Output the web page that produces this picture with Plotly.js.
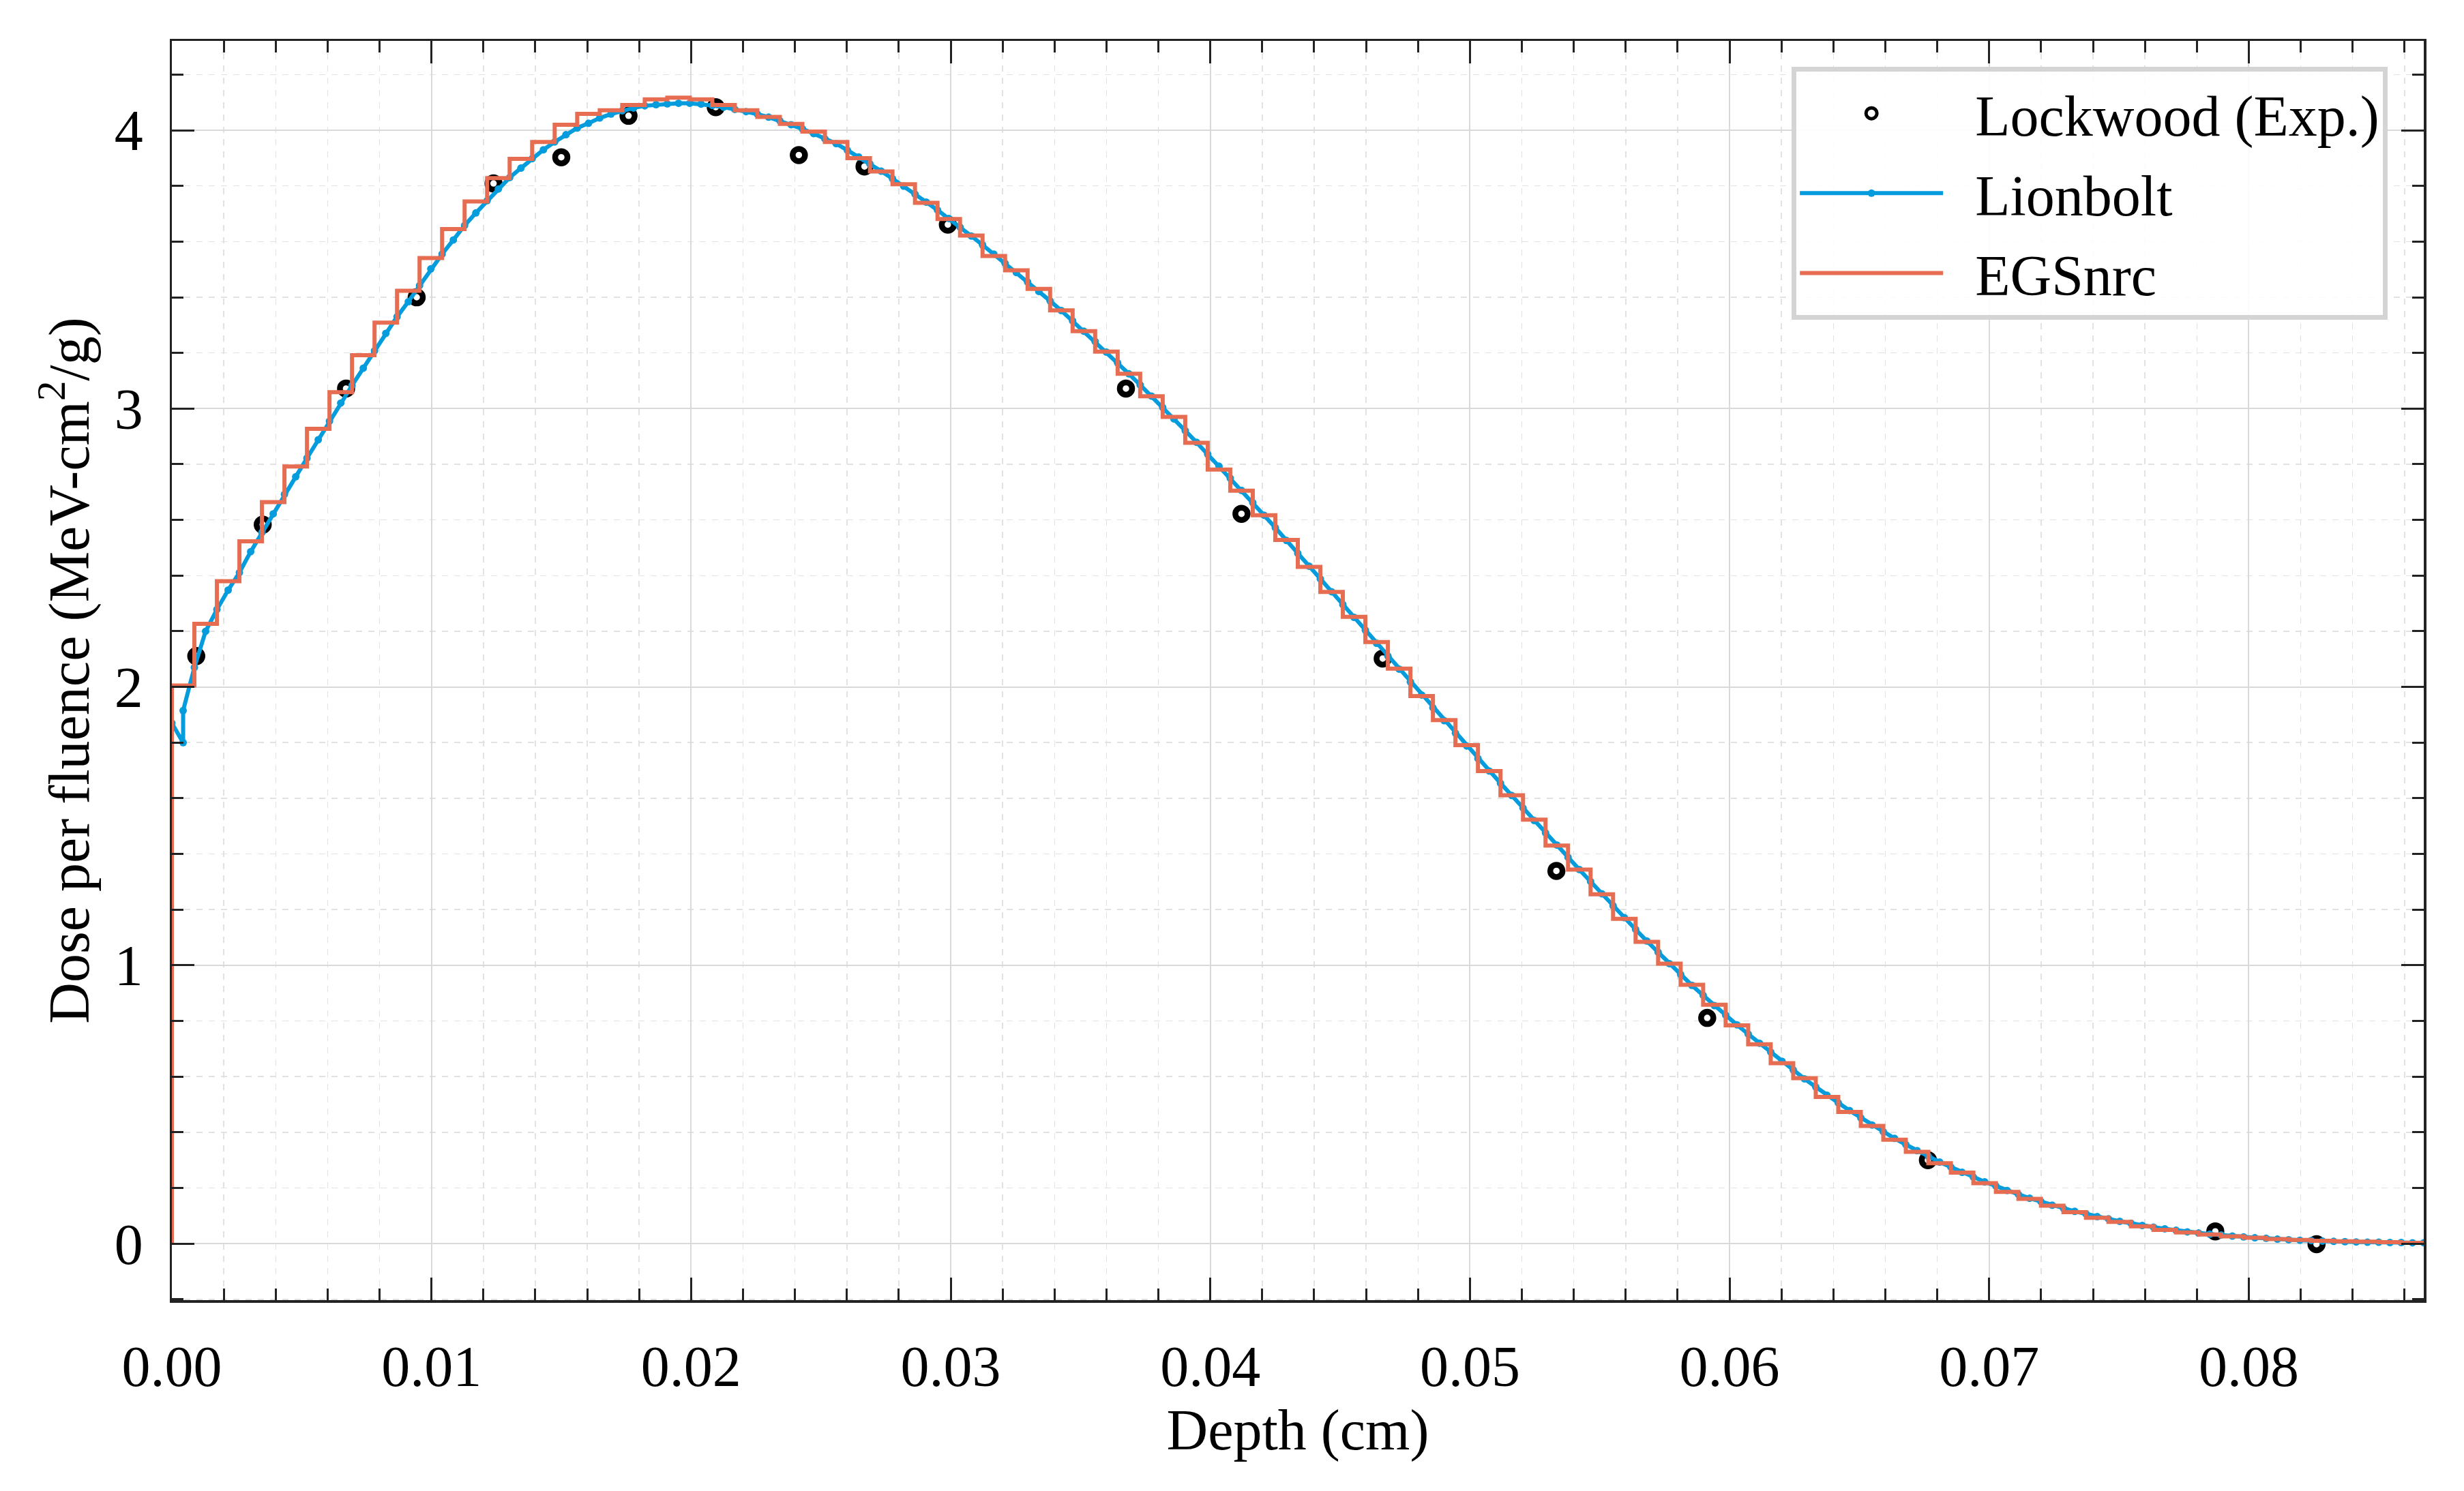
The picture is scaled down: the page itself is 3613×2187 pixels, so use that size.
<!DOCTYPE html>
<html>
<head>
<meta charset="utf-8">
<script src="https://cdn.plot.ly/plotly-3.0.1.min.js"></script>
<style>
  html, body { margin: 0; padding: 0; background: #fff; }
  #plot { width: 3613px; height: 2187px; }
</style>
</head>
<body>
<div id="plot"></div>
<script>
// Lockwood measurements (depth in cm, dose per fluence in MeV-cm^2/g)
const lockwoodDepth = [0.00094, 0.00350, 0.00671, 0.00943, 0.01239, 0.01500, 0.01759, 0.02095,
  0.02415, 0.02668, 0.02989, 0.03675, 0.04120, 0.04664, 0.05333, 0.05914, 0.06764, 0.07871, 0.08261];
const lockwoodDose = [2.111, 2.583, 3.072, 3.400, 3.809, 3.903, 4.052, 4.083,
  3.911, 3.870, 3.661, 3.072, 2.622, 2.102, 1.339, 0.811, 0.300, 0.044, -0.002];

// Lionbolt: nodes every half slab, node 1 appears twice (jump just below the surface)
const lionboltStep = 0.0004337;
const lionboltDose = [
  1.870, 1.800, 1.915, 2.070, 2.200, 2.278, 2.348, 2.411, 2.486, 2.555,
  2.622, 2.692, 2.755, 2.822, 2.888, 2.955, 3.020, 3.083, 3.145, 3.208,
  3.270, 3.330, 3.384, 3.442, 3.502, 3.555, 3.606, 3.658, 3.703, 3.747,
  3.789, 3.830, 3.864, 3.898, 3.930, 3.958, 3.984, 4.008, 4.025, 4.044,
  4.058, 4.070, 4.080, 4.088, 4.092, 4.095, 4.097, 4.097, 4.094, 4.089,
  4.083, 4.075, 4.067, 4.058, 4.047, 4.034, 4.020, 4.005, 3.988, 3.969,
  3.952, 3.928, 3.904, 3.879, 3.853, 3.826, 3.799, 3.771, 3.742, 3.713,
  3.683, 3.652, 3.620, 3.588, 3.555, 3.522, 3.489, 3.455, 3.421, 3.387,
  3.352, 3.315, 3.278, 3.241, 3.203, 3.164, 3.125, 3.085, 3.045, 3.004,
  2.963, 2.921, 2.879, 2.836, 2.793, 2.750, 2.706, 2.662, 2.617, 2.572,
  2.526, 2.480, 2.434, 2.388, 2.342, 2.296, 2.250, 2.204, 2.157, 2.111,
  2.064, 2.018, 1.971, 1.925, 1.879, 1.834, 1.788, 1.743, 1.698, 1.654,
  1.610, 1.565, 1.520, 1.476, 1.432, 1.388, 1.344, 1.301, 1.257, 1.214,
  1.171, 1.129, 1.087, 1.047, 1.006, 0.967, 0.928, 0.892, 0.855, 0.821,
  0.786, 0.753, 0.720, 0.688, 0.655, 0.624, 0.592, 0.563, 0.533, 0.506,
  0.478, 0.452, 0.426, 0.402, 0.378, 0.356, 0.334, 0.314, 0.293, 0.275,
  0.256, 0.239, 0.222, 0.207, 0.191, 0.177, 0.163, 0.151, 0.138, 0.127,
  0.116, 0.107, 0.097, 0.089, 0.080, 0.073, 0.065, 0.059, 0.053, 0.048,
  0.042, 0.038, 0.034, 0.031, 0.027, 0.024, 0.021, 0.019, 0.016, 0.014,
  0.012, 0.011, 0.009, 0.008, 0.007, 0.006, 0.005, 0.005, 0.004, 0.004,
  0.003, 0.003
];

// EGSnrc: dose scored in 100 slabs
const egsBinWidth = 0.0008674;
const egsDose = [
  2.005, 2.227, 2.380, 2.523, 2.664, 2.792, 2.927, 3.059, 3.192, 3.309,
  3.423, 3.541, 3.645, 3.744, 3.828, 3.897, 3.958, 4.020, 4.059, 4.072,
  4.091, 4.111, 4.117, 4.111, 4.091, 4.072, 4.048, 4.023, 3.995, 3.958,
  3.900, 3.852, 3.806, 3.739, 3.681, 3.622, 3.548, 3.497, 3.430, 3.353,
  3.278, 3.205, 3.125, 3.044, 2.970, 2.877, 2.781, 2.705, 2.617, 2.528,
  2.431, 2.341, 2.252, 2.161, 2.066, 1.967, 1.881, 1.791, 1.698, 1.611,
  1.523, 1.430, 1.344, 1.255, 1.167, 1.084, 1.006, 0.930, 0.858, 0.784,
  0.716, 0.648, 0.594, 0.527, 0.473, 0.423, 0.373, 0.330, 0.289, 0.255,
  0.217, 0.186, 0.161, 0.136, 0.113, 0.093, 0.078, 0.062, 0.049, 0.040,
  0.033, 0.026, 0.021, 0.016, 0.013, 0.010, 0.008, 0.007, 0.005, 0.003
];

const lionboltDepth = lionboltDose.map((_, i) => (i < 2 ? i : i - 1) * lionboltStep);

// stairs: start from zero at the surface, one point per slab, close the last slab
const egsX = [0, ...egsDose.map((_, i) => i * egsBinWidth), egsDose.length * egsBinWidth];
const egsY = [0, ...egsDose, egsDose[egsDose.length - 1]];

const serif = "Liberation Serif";
const gap = "\u2002"; // keeps the legend text clear of the symbol

const traces = [
  {
    x: lockwoodDepth, y: lockwoodDose, name: gap + "Lockwood (Exp.)",
    mode: "markers", type: "scatter", legendgroup: "a",
    marker: { symbol: "circle", size: 18, color: "#ffffff", line: { color: "#000000", width: 8.5 } },
  },
  {
    x: lionboltDepth, y: lionboltDose, name: gap + "Lionbolt",
    mode: "lines+markers", type: "scatter", legendgroup: "b",
    line: { color: "#049cdd", width: 6 },
    marker: { size: 11, color: "#049cdd" },
  },
  {
    x: egsX, y: egsY, name: gap + "EGSnrc",
    mode: "lines", type: "scatter", legendgroup: "c",
    line: { color: "#e66d52", width: 6, shape: "hv" },
  },
];

const axisCommon = {
  showline: true, linecolor: "#222", linewidth: 3.5, mirror: "allticks",
  ticks: "inside", ticklen: 33, tickwidth: 3, tickcolor: "#222",
  showgrid: true, gridcolor: "#d9d9d9", gridwidth: 2, zeroline: false,
  tickfont: { family: serif, size: 84, color: "#000" },
  ticklabelstandoff: 22,
};

const layout = {
  width: 3613, height: 2187,
  paper_bgcolor: "#fff", plot_bgcolor: "#fff",
  margin: { l: 252, r: 59, t: 60, b: 280 },
  font: { family: serif, size: 84, color: "#000" },
  showlegend: true,
  xaxis: {
    ...axisCommon,
    range: [0, 0.08674], dtick: 0.01, tick0: 0, tickformat: ".2f",
    minor: { dtick: 0.002, ticks: "inside", ticklen: 17, tickwidth: 3, tickcolor: "#222",
      showgrid: true, gridcolor: "#e2e2e2", gridwidth: 1.5, griddash: "dash" },
    title: { text: "Depth (cm)", font: { family: serif, size: 84, color: "#000" }, standoff: 0 },
  },
  yaxis: {
    ...axisCommon,
    range: [-0.203, 4.321], dtick: 1, tick0: 0,
    minor: { dtick: 0.2, ticks: "inside", ticklen: 17, tickwidth: 3, tickcolor: "#222",
      showgrid: true, gridcolor: "#e2e2e2", gridwidth: 1.5, griddash: "dash" },
    title: { text: "Dose per fluence (MeV-cm<sup>2</sup>/g)", font: { family: serif, size: 84, color: "#000" }, standoff: 10 },
  },
  legend: {
    x: 0.984, xanchor: "right", y: 0.9794, yanchor: "top",
    bgcolor: "rgba(255,255,255,0.9)", bordercolor: "#d4d4d4", borderwidth: 7,
    font: { family: serif, size: 84, color: "#000" },
    itemwidth: 210, tracegroupgap: 5,
  },
};

Plotly.newPlot("plot", traces, layout, { staticPlot: true });
</script>
</body>
</html>
